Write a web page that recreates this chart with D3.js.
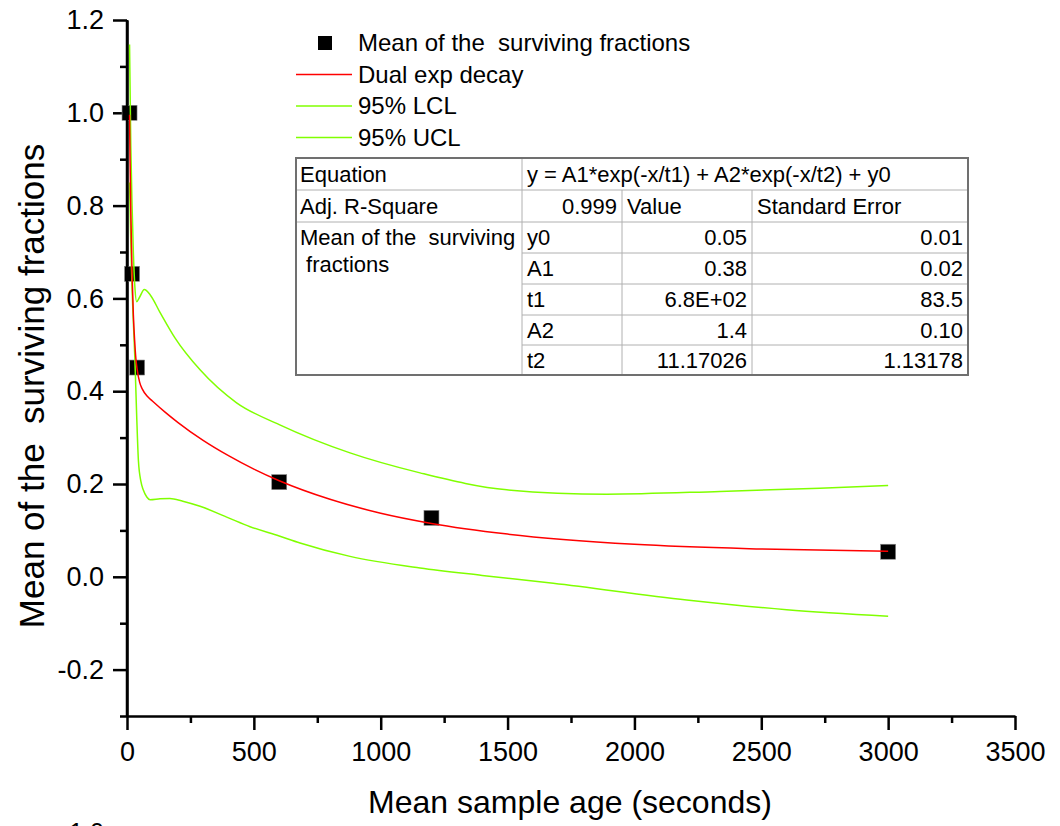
<!DOCTYPE html>
<html>
<head>
<meta charset="utf-8">
<script src="https://cdn.jsdelivr.net/npm/d3@7"></script>
<style>
  body { margin: 0; background: #fff; }
  svg text { font-family: "Liberation Sans", Arial, sans-serif; fill: #000; }
</style>
</head>
<body>
<div id="chart"></div>
<script>
// measured means
const sampleAge = [10, 20, 40, 600, 1200, 3000];
const survivingMean = [1.0, 0.653, 0.451, 0.204, 0.127, 0.054];

// dual exp decay fit
const fitAge = [10, 12, 15, 20, 25, 30, 35, 40, 50, 60, 80, 100, 150, 200, 300, 400, 500, 600, 800, 1000, 1200, 1500, 2000, 2500, 3000];
const fitValue = [0.996, 0.90, 0.787, 0.653, 0.565, 0.51, 0.47, 0.447, 0.419, 0.405, 0.389, 0.379, 0.355, 0.333, 0.294, 0.261, 0.232, 0.207, 0.167, 0.137, 0.115, 0.092, 0.070, 0.060, 0.055];

// 95% upper confidence limit
const uclAge = [10, 15, 20, 25, 31, 38, 50, 68, 91, 130, 189, 288, 432, 600, 879, 1155, 1497, 1891, 2337, 2731, 3000];
const uclValue = [1.147, 0.93, 0.80, 0.70, 0.625, 0.593, 0.603, 0.619, 0.608, 0.57, 0.515, 0.446, 0.375, 0.328, 0.267, 0.224, 0.1875, 0.178, 0.184, 0.191, 0.197];

// 95% lower confidence limit
const lclAge = [10, 15, 20, 25, 31, 38, 45, 55, 64, 78, 91, 130, 169, 220, 288, 400, 485, 600, 682, 879, 1155, 1400, 1680, 2206, 2600, 3000];
const lclValue = [0.85, 0.72, 0.62, 0.55, 0.47, 0.35, 0.25, 0.205, 0.1875, 0.172, 0.166, 0.168, 0.169, 0.163, 0.152, 0.127, 0.108, 0.088, 0.073, 0.044, 0.019, 0.003, -0.014, -0.05, -0.071, -0.085];

const xTicks = [0, 500, 1000, 1500, 2000, 2500, 3000, 3500];
const yTicks = [-0.2, 0, 0.2, 0.4, 0.6, 0.8, 1.0, 1.2];
const yTickLabels = ["-0.2", "0.0", "0.2", "0.4", "0.6", "0.8", "1.0", "1.2"];

const legendLabels = ["Mean of the  surviving fractions", "Dual exp decay", "95% LCL", "95% UCL"];

// fit statistics table
const equationRow = ["Equation", "y = A1*exp(-x/t1) + A2*exp(-x/t2) + y0"];
const statsRow = ["Adj. R-Square", "0.999", "Value", "Standard Error"];
const seriesName = ["Mean of the  surviving", " fractions"];
const paramNames = ["y0", "A1", "t1", "A2", "t2"];
const paramValues = ["0.05", "0.38", "6.8E+02", "1.4", "11.17026"];
const paramErrors = ["0.01", "0.02", "83.5", "0.10", "1.13178"];

const W = 1060, H = 826;
const svg = d3.select('#chart').append('svg')
    .attr('width', W)
    .attr('height', H);

const x = d3.scaleLinear().domain([0, 3500]).range([127, 1015]);
const y = d3.scaleLinear().domain([-0.3, 1.2]).range([716, 20]);

const RED = '#ff0000';
const GREEN = '#80ff00';

// minor ticks first, then major axes on top
svg.append('g')
    .attr('transform', `translate(0,${y(-0.3)})`)
    .call(d3.axisBottom(x).tickValues(d3.range(250, 3500, 500)).tickSize(7).tickFormat(''))
    .call(g => g.select('.domain').remove());
svg.append('g')
    .attr('transform', `translate(${x(0)},0)`)
    .call(d3.axisLeft(y).tickValues(d3.range(-3, 12, 2).map(d => d / 10)).tickSize(7).tickFormat(''))
    .call(g => g.select('.domain').remove());

const xAxis = svg.append('g')
    .attr('transform', `translate(0,${y(-0.3)})`)
    .call(d3.axisBottom(x).tickValues(xTicks).tickSize(14).tickSizeOuter(0).tickPadding(12)
        .tickFormat(d3.format('d')));
xAxis.selectAll('text').attr('font-size', 27);

const yAxis = svg.append('g')
    .attr('transform', `translate(${x(0)},0)`)
    .call(d3.axisLeft(y).tickValues(yTicks).tickSize(14).tickSizeOuter(0).tickPadding(9)
        .tickFormat((d, i) => yTickLabels[i]));
yAxis.selectAll('text').attr('font-size', 27);

svg.selectAll('.domain, .tick line')
    .attr('stroke', '#000')
    .attr('stroke-width', 2.5);
svg.selectAll('.tick text').attr('font-family', '"Liberation Sans", Arial, sans-serif');

// axis titles
svg.append('text')
    .attr('x', 570).attr('y', 813)
    .attr('text-anchor', 'middle')
    .attr('font-size', 32)
    .text('Mean sample age (seconds)');

svg.append('text')
    .attr('transform', `translate(44,386) rotate(-90)`)
    .attr('text-anchor', 'middle')
    .attr('font-size', 35)
    .style('white-space', 'pre')
    .text('Mean of the  surviving fractions');

// clipped label peeking in from the panel below
svg.append('text')
    .attr('x', 104).attr('y', 841)
    .attr('text-anchor', 'end')
    .attr('font-size', 25)
    .text('1.0');

// data markers
svg.selectAll('.dot')
    .data(sampleAge.map((d, i) => [d, survivingMean[i]]))
    .enter().append('rect')
    .attr('class', 'dot')
    .attr('x', d => x(d[0]) - 7.5)
    .attr('y', d => y(d[1]) - 7.5)
    .attr('width', 15)
    .attr('height', 15)
    .attr('fill', '#000')
    .attr('stroke', '#888')
    .attr('stroke-width', 0.6);

// curves
const line = d3.line()
    .x(d => x(d[0]))
    .y(d => y(d[1]))
    .curve(d3.curveMonotoneX);

const curves = [
    { xs: lclAge, ys: lclValue, color: GREEN },
    { xs: uclAge, ys: uclValue, color: GREEN },
    { xs: fitAge, ys: fitValue, color: RED }
];
curves.forEach(c => {
    svg.append('path')
        .datum(c.xs.map((d, i) => [d, c.ys[i]]))
        .attr('fill', 'none')
        .attr('stroke', c.color)
        .attr('stroke-width', 1.5)
        .attr('d', line);
});

// re-draw y axis line over the curve starts
svg.append('line')
    .attr('x1', x(0)).attr('x2', x(0))
    .attr('y1', y(1.2)).attr('y2', y(-0.3))
    .attr('stroke', '#000').attr('stroke-width', 2.5);

// legend
const legend = svg.append('g');
legend.append('rect')
    .attr('x', 318).attr('y', 36).attr('width', 14).attr('height', 14)
    .attr('fill', '#000');
const legendColors = [null, RED, GREEN, GREEN];
legendLabels.forEach((label, i) => {
    const cy = 43 + i * 31.5;
    if (legendColors[i]) {
        legend.append('line')
            .attr('x1', 296).attr('x2', 352)
            .attr('y1', cy).attr('y2', cy)
            .attr('stroke', legendColors[i]).attr('stroke-width', 1.5);
    }
    legend.append('text')
        .attr('x', 358).attr('y', cy + 8)
        .attr('font-size', 24)
        .style('white-space', 'pre')
        .text(label);
});

// fit table
const tbl = svg.append('g');
const tL = 296, tR = 968, c1 = 522, c2 = 622, c3 = 752;
const rowY = [158, 190, 222, 253, 284, 315, 345, 375];
const fs = 22;
const inner = '#b0b0b0';

// inner grid
tbl.append('line').attr('x1', tL).attr('x2', tR).attr('y1', rowY[1]).attr('y2', rowY[1]).attr('stroke', inner);
tbl.append('line').attr('x1', tL).attr('x2', tR).attr('y1', rowY[2]).attr('y2', rowY[2]).attr('stroke', inner);
for (let r = 3; r < 7; r++) {
    tbl.append('line').attr('x1', c1).attr('x2', tR).attr('y1', rowY[r]).attr('y2', rowY[r]).attr('stroke', inner);
}
tbl.append('line').attr('x1', c1).attr('x2', c1).attr('y1', rowY[0]).attr('y2', rowY[7]).attr('stroke', inner);
[c2, c3].forEach(cx => {
    tbl.append('line').attr('x1', cx).attr('x2', cx).attr('y1', rowY[1]).attr('y2', rowY[7]).attr('stroke', inner);
});
tbl.append('rect')
    .attr('x', tL).attr('y', rowY[0])
    .attr('width', tR - tL).attr('height', rowY[7] - rowY[0])
    .attr('fill', 'none').attr('stroke', '#707070').attr('stroke-width', 2);

function cell(txt, px, row, anchor, dy = 0) {
    tbl.append('text')
        .attr('x', px)
        .attr('y', (rowY[row] + rowY[row + 1]) / 2 + fs * 0.36 + dy)
        .attr('text-anchor', anchor)
        .attr('font-size', fs)
        .style('white-space', 'pre')
        .text(txt);
}
cell(equationRow[0], tL + 4, 0, 'start');
cell(equationRow[1], c1 + 5, 0, 'start');
cell(statsRow[0], tL + 4, 1, 'start');
cell(statsRow[1], c2 - 5, 1, 'end');
cell(statsRow[2], c2 + 5, 1, 'start');
cell(statsRow[3], c3 + 5, 1, 'start');
cell(seriesName[0], tL + 4, 2, 'start');
cell(seriesName[1], tL + 4, 3, 'start', -4);
paramNames.forEach((p, i) => {
    cell(p, c1 + 5, i + 2, 'start');
    cell(paramValues[i], c3 - 5, i + 2, 'end');
    cell(paramErrors[i], tR - 5, i + 2, 'end');
});
</script>
</body>
</html>
